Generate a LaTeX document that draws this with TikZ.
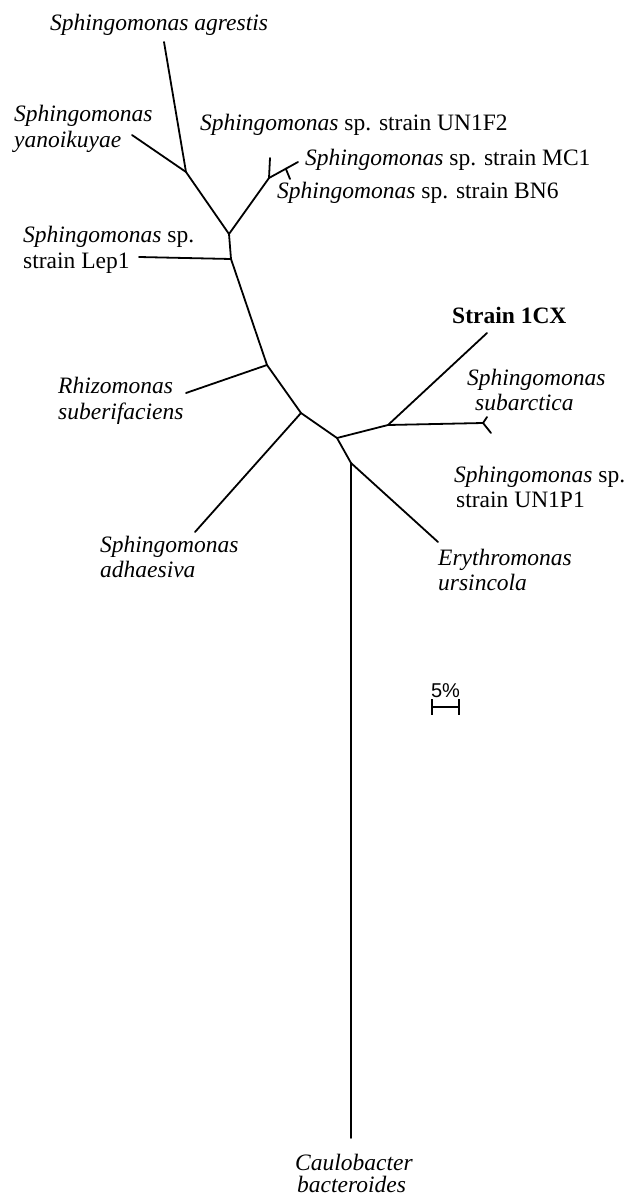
\documentclass[tikz,border=0pt]{standalone}
\usepackage{fontspec}
\setmainfont{Liberation Serif}
\newfontfamily\scalefont{Liberation Sans}
\usetikzlibrary{calc}
\begin{document}
\begin{tikzpicture}[x=1pt,y=-1pt,
  br/.style={line width=1.8pt, line cap=round, line join=round},
  lab/.style={anchor=base west, inner sep=0pt, font=\fontsize{23.5}{25.5}\selectfont},
  sbar/.style={line width=2.6pt}]
\useasboundingbox (0,0) rectangle (625,1196);
% internal nodes
\coordinate (A) at (186,172);
\coordinate (B) at (229,234);
\coordinate (M) at (269,178);
\coordinate (L) at (231,259);
\coordinate (R) at (267,365);
\coordinate (Ad) at (301,413);
\coordinate (C) at (337,438);
\coordinate (S) at (388,425);
\coordinate (U) at (483,423);
\coordinate (D) at (351,463);
% tips
\coordinate (tAgr) at (164,42);
\coordinate (tYan) at (132,135);
\coordinate (tF2) at (270,158);
\coordinate (tMC) at (298,162);
\coordinate (N) at ($(M)!0.58!(tMC)$);
\coordinate (tBN) at (290,179);
\coordinate (tLep) at (139,257);
\coordinate (tRhi) at (186,393);
\coordinate (tAdh) at (195,532);
\coordinate (t1CX) at (487,333);
\coordinate (tSub) at (487,417);
\coordinate (tP1) at (491,433);
\coordinate (tEry) at (438,542);
\coordinate (tCau) at (351,1138);
% branches
\draw[br] (tAgr) -- (A);
\draw[br] (tYan) -- (A);
\draw[br] (A) -- (B) -- (L) -- (R) -- (Ad) -- (C) -- (D);
\draw[br] (B) -- (M) -- (tF2);
\draw[br] (M) -- (tMC);
\draw[br] (N) -- (tBN);
\draw[br] (tLep) -- (L);
\draw[br] (tRhi) -- (R);
\draw[br] (tAdh) -- (Ad);
\draw[br] (C) -- (S) -- (t1CX);
\draw[br] (S) -- (U);
\draw[br] (U) -- (tSub);
\draw[br] (U) -- (tP1);
\draw[br] (D) -- (tEry);
\draw[br] (D) -- (tCau);
% labels
\node[lab] (lAgr) at (50,31) {\itshape Sphingomonas agrestis};
\node[lab] (lYan1) at (14,122) {\itshape Sphingomonas};
\node[lab] (lYan2) at (14,147) {\itshape yanoikuyae};
\node[lab] (lF2) at (200,131) {\textit{Sphingomonas} sp. strain UN1F2};
\node[lab] (lMC) at (305,165) {\textit{Sphingomonas} sp. strain MC1};
\node[lab] (lBN) at (277,198) {\textit{Sphingomonas} sp. strain BN6};
\node[lab] (lLep1) at (23,242) {\textit{Sphingomonas} sp.};
\node[lab] (lLep2) at (23,268) {strain Lep1};
\node[lab] (lRhi1) at (58,393) {\itshape Rhizomonas};
\node[lab] (lRhi2) at (58,419) {\itshape suberifaciens};
\node[lab] (l1CX) at (452,323) {\bfseries Strain 1CX};
\node[lab] (lSub1) at (467,385) {\itshape Sphingomonas};
\node[lab] (lSub2) at (475,410) {\itshape subarctica};
\node[lab] (lP1a) at (454,482) {\textit{Sphingomonas} sp.};
\node[lab] (lP1b) at (456,507) {strain UN1P1};
\node[lab] (lAdh1) at (100,552) {\itshape Sphingomonas};
\node[lab] (lAdh2) at (100,577) {\itshape adhaesiva};
\node[lab] (lEry1) at (438,565) {\itshape Erythromonas};
\node[lab] (lEry2) at (438,590) {\itshape ursincola};
\node[lab] (lCau1) at (295,1170) {\itshape Caulobacter};
\node[lab] (lCau2) at (297,1192) {\itshape bacteroides};
% scale bar
\coordinate (s1) at (432,707);
\coordinate (s2) at (459,707);
\draw[sbar] (s1) -- (s2);
\draw[sbar] ($(s1)+(0,-8)$) -- ($(s1)+(0,8)$);
\draw[sbar] ($(s2)+(0,-8)$) -- ($(s2)+(0,8)$);
\node[anchor=base, inner sep=0pt, font=\scalefont\fontsize{20}{22}\selectfont] (lScale) at (445.5,697) {5\%};
\end{tikzpicture}
\end{document}
